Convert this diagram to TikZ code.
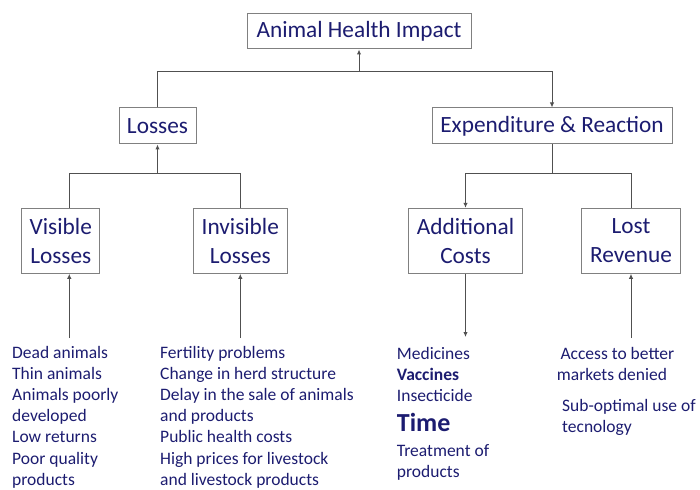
\documentclass[tikz,border=0pt]{standalone}
\usepackage{fontspec}
\setmainfont{Carlito}
\usetikzlibrary{arrows.meta}
\definecolor{txt}{RGB}{28,28,112}
\definecolor{boxc}{RGB}{128,128,128}
\definecolor{linec}{RGB}{80,80,80}
\tikzset{
  box/.style={draw=boxc,line width=1pt,fill=white,text=txt,inner sep=0pt,align=center,font=\fontsize{23.3}{29}\selectfont},
  conn/.style={draw=linec,line width=1pt},
  arr/.style={conn,-{Latex[length=5pt,width=4.5pt]}},
  item/.style={text=txt,inner sep=0pt,font=\fontsize{17.5}{21}\selectfont},
}
\begin{document}
\begin{tikzpicture}[x=1pt,y=-1pt]
\useasboundingbox (0,0) rectangle (700,489);
\node[box,minimum width=224pt,minimum height=35pt] (top) at (359,31.5) {Animal Health Impact};
\node[box,minimum width=77pt,minimum height=36pt] (loss) at (157.5,126) {Losses};
\node[box,minimum width=240pt,minimum height=36pt] (exp) at (552,126) {Expenditure \& Reaction};
\node[box,minimum width=77.7pt,minimum height=65pt] (vis) at (60.8,240.8) {Visible\\Losses};
\node[box,minimum width=94pt,minimum height=65pt] (invis) at (240.3,240.8) {Invisible\\Losses};
\node[box,minimum width=114.4pt,minimum height=65pt] (addc) at (465.5,240.8) {Additional\\Costs};
\node[box,minimum width=99.4pt,minimum height=65pt] (lostr) at (631,240.8) {Lost\\Revenue};
% top level
\coordinate (b1) at (359,72);
\draw[conn] (loss.north) |- (b1);
\draw[arr] (b1) -| (exp.north);
\draw[arr] (b1) -- (top.south);
% losses level
\coordinate (b2) at (157.5,173.3);
\draw[conn] ([xshift=8.5pt]vis.north) |- (b2);
\draw[conn] (invis.north) |- (b2);
\draw[arr] (b2) -- (loss.south);
% expenditure level
\coordinate (b3) at (552,173.3);
\draw[conn] (lostr.north) |- (b3);
\draw[arr] (b3) -| (addc.north);
\draw[conn] (b3) -- (exp.south);
% bottom arrows
\coordinate (v0) at (69.3,338);
\coordinate (i0) at (240.3,338);
\coordinate (a0) at (465.5,337);
\coordinate (r0) at (631,338);
\draw[arr] (v0) -- ([xshift=8.5pt]vis.south);
\draw[arr] (i0) -- (invis.south);
\draw[arr] (addc.south) -- (a0);
\draw[arr] (r0) -- (lostr.south);
% lists
\foreach \t [count=\i] in {Dead animals,Thin animals,Animals poorly,developed,Low returns,Poor quality,products}
  \node[item,anchor=base west] (vl\i) at (12,{358.5+21.1*(\i-1)}) {\t};
\foreach \t [count=\i] in {Fertility problems,Change in herd structure,Delay in the sale of animals,and products,Public health costs,High prices for livestock,and livestock products}
  \node[item,anchor=base west] (il\i) at (160,{358.5+21.1*(\i-1)}) {\t};
\node[item,anchor=base west] (ac1) at (396.7,359.3) {Medicines};
\node[item,anchor=base west,font=\fontsize{17.5}{21}\selectfont\bfseries] (ac2) at (396.7,380.6) {Vaccines};
\node[item,anchor=base west] (ac3) at (396.7,401.8) {Insecticide};
\node[item,anchor=base west,font=\fontsize{26}{30}\selectfont\bfseries] (ac4) at (396.7,431) {Time};
\node[item,anchor=base west] (ac5) at (396.7,456) {Treatment of};
\node[item,anchor=base west] (ac6) at (396.7,477.2) {products};
\node[item,anchor=base west] (lr1) at (560.3,359.3) {Access to better};
\node[item,anchor=base west] (lr2) at (556.7,380.6) {markets denied};
\node[item,anchor=base west] (lr3) at (562,411) {Sub-optimal use of};
\node[item,anchor=base west] (lr4) at (562,432.2) {tecnology};
\end{tikzpicture}
\end{document}
